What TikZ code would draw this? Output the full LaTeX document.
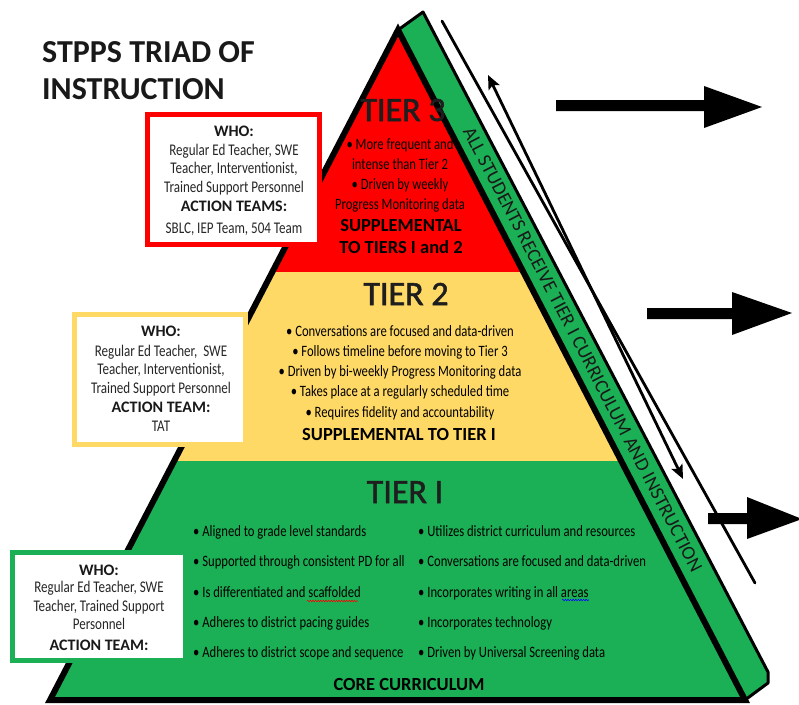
\documentclass[tikz,border=0pt]{standalone}
\usepackage{fontspec}
\setmainfont{Carlito}
\newfontfamily\bodyfont[FakeStretch=0.8]{Carlito}
\newfontfamily\tierfont[FakeBold=1.6]{Carlito}
\usetikzlibrary{shadows,arrows.meta,decorations.pathmorphing}
\definecolor{tred}{HTML}{FF0000}
\definecolor{tyel}{HTML}{FFD966}
\definecolor{tgrn}{HTML}{1BB055}
\definecolor{tlab}{HTML}{1E1E1E}
\tikzset{
  body/.style={font=\bodyfont\fontsize{15.8}{18}\selectfont, anchor=base, inner sep=0pt, text=black},
  bodyw/.style={body, anchor=base west},
  boldl/.style={font=\bfseries\fontsize{18.5}{20}\selectfont, anchor=base, inner sep=0pt, text=black},
  whob/.style={font=\bfseries\fontsize{16}{18}\selectfont, anchor=base, inner sep=0pt, text=black!90},
  whot/.style={font=\bodyfont\fontsize{16.3}{18}\selectfont, anchor=base, inner sep=0pt, text=black!85},
  tierlab/.style={font=\tierfont\fontsize{34}{36}\selectfont, anchor=base, inner sep=0pt, text=tlab},
  titlet/.style={font=\bfseries\fontsize{32}{34}\selectfont, anchor=base west, inner sep=0pt, text=black!90},
  stripw/.style={font=\fontsize{19.4}{20}\selectfont, anchor=west, inner sep=0pt, transform shape, text=black!90},
  whobox/.style={line width=5pt, fill=white, drop shadow={shadow xshift=2.5pt, shadow yshift=-2.5pt, opacity=0.35}},
  bigarrow/.style={fill=black},
  thinline/.style={line width=2.8pt, black},
  squig/.style={line width=0.6pt, decorate, decoration={snake, amplitude=0.7pt, segment length=2.6pt}}
}
\begin{document}
\begin{tikzpicture}[x=1pt,y=-1pt]
\useasboundingbox (0,0) rectangle (799,704);
\fill[white] (0,0) rectangle (799,704);

% title
\node[titlet] (title1) at (42,62) {STPPS TRIAD OF};
\node[titlet] (title2) at (42,99) {INSTRUCTION};

% pyramid geometry
\coordinate (AP) at (398,30);
\coordinate (BL) at (50,700);
\coordinate (BR) at (745,700);
\coordinate (S1) at (423,12);
\coordinate (S2) at (768,672);
\coordinate (S3) at (768,683);

% side strip
\filldraw[fill=tgrn, draw=black, line width=3pt, line join=round] (AP) -- (S1) -- (S2) -- (S3) -- (BR) -- cycle;

% tiers
\begin{scope}
  \clip (BL) -- (AP) -- (BR) -- cycle;
  \fill[tgrn] (0,0) rectangle (799,704);
  \fill[tyel] (0,0) rectangle (799,461);
  \fill[tred] (0,0) rectangle (799,272);
\end{scope}
\draw[line width=6pt, line join=miter] (BL) -- (AP) -- (BR) -- cycle;

% strip text, word by word along the strip
\begin{scope}[shift={(468,128)}, rotate=-62.6]
  \node[stripw] (sw1) at (0,0) {ALL};
  \node[stripw] (sw2) at (sw1.east) {\hspace{0.2em}STUDENTS};
  \node[stripw] (sw3) at (sw2.east) {\hspace{0.15em}RECEIVE};
  \node[stripw] (sw4) at (sw3.east) {\hspace{0.22em}TIER};
  \node[stripw] (sw5) at (sw4.east) {\hspace{0.22em}I};
  \node[stripw] (sw6) at (sw5.east) {\hspace{0.22em}CURRICULUM};
  \node[stripw] (sw7) at (sw6.east) {\hspace{0.22em}AND};
  \node[stripw] (sw8) at (sw7.east) {\hspace{0.22em}INSTRUCTION};
\end{scope}

% thin line and double arrow
\coordinate (o1) at (442,21);
\coordinate (o2) at (755,583);
\draw[thinline, line cap=round] (o1) -- (o2);
\coordinate (i1) at (488,75);
\coordinate (i2) at (683,479);
\draw[thinline, {Stealth[length=14pt,width=12pt,inset=3pt]}-{Stealth[length=14pt,width=12pt,inset=3pt]}] (i1) -- (i2);

% big arrows
\fill[bigarrow] (556,100) -- (704,100) -- (704,86) -- (762,107) -- (704,128) -- (704,111) -- (556,111) -- cycle;
\fill[bigarrow] (647,308) -- (732,308) -- (732,292) -- (792,313) -- (732,335) -- (732,319) -- (647,319) -- cycle;
\fill[bigarrow] (708,513) -- (747,513) -- (747,497) -- (802,519) -- (747,539) -- (747,524) -- (708,524) -- cycle;

% tier labels
\node[tierlab] (tier3) at (403,121) {TIER 3};
\node[tierlab] (tier2) at (406,305) {TIER 2};
\node[tierlab] (tier1) at (405,503) {TIER I};

% tier 3 text
\node[body] (t3a) at (400,149) {• More frequent and};
\node[body] (t3b) at (400,169) {intense than Tier 2};
\node[body] (t3c) at (400,189) {• Driven by weekly};
\node[body] (t3d) at (400,209) {Progress Monitoring data};
\node[boldl] (t3e) at (401,231.5) {SUPPLEMENTAL};
\node[boldl] (t3f) at (401,253) {TO TIERS I and 2};

% tier 2 text
\node[body] (t2a) at (400,336) {• Conversations are focused and data-driven};
\node[body] (t2b) at (400,356) {• Follows timeline before moving to Tier 3};
\node[body] (t2c) at (400,376) {• Driven by bi-weekly Progress Monitoring data};
\node[body] (t2d) at (400,396) {• Takes place at a regularly scheduled time};
\node[body] (t2e) at (400,417) {• Requires fidelity and accountability};
\node[boldl] (t2f) at (399,440) {SUPPLEMENTAL TO TIER I};

% tier 1 text
\node[bodyw] (t1a) at (193,536) {• Aligned to grade level standards};
\node[bodyw] (t1b) at (193,566) {• Supported through consistent PD for all};
\node[bodyw] (t1c) at (193,597) {• Is differentiated and scaffolded};
\node[bodyw] (t1d) at (193,627) {• Adheres to district pacing guides};
\node[bodyw] (t1e) at (193,657) {• Adheres to district scope and sequence};
\node[bodyw] (t1f) at (418,536) {• Utilizes district curriculum and resources};
\node[bodyw] (t1g) at (418,566) {• Conversations are focused and data-driven};
\node[bodyw] (t1h) at (418,597) {• Incorporates writing in all areas};
\node[bodyw] (t1i) at (418,627) {• Incorporates technology};
\node[bodyw] (t1j) at (418,657) {• Driven by Universal Screening data};
\node[boldl] (t1k) at (409,690) {CORE CURRICULUM};
\draw[squig, red] (307,601) -- (358,601);
\draw[squig, blue] (562,600) -- (589,600);

% WHO boxes
\path[whobox, draw=tred] (147.5,114.5) rectangle (319.5,244.5);
\node[whob] (w3a) at (234,136.5) {WHO:};
\node[whot] (w3b) at (234,155) {Regular Ed Teacher, SWE};
\node[whot] (w3c) at (234,173.5) {Teacher, Interventionist,};
\node[whot] (w3d) at (234,192.5) {Trained Support Personnel};
\node[whob] (w3e) at (234,211.5) {ACTION TEAMS:};
\node[whot] (w3f) at (234,233) {SBLC, IEP Team, 504 Team};

\path[whobox, draw=tyel] (74.5,314.5) rectangle (245.5,444.5);
\node[whob] (w2a) at (161,336.5) {WHO:};
\node[whot] (w2b) at (161,356) {Regular Ed Teacher,\ \ SWE};
\node[whot] (w2c) at (161,374.5) {Teacher, Interventionist,};
\node[whot] (w2d) at (161,393) {Trained Support Personnel};
\node[whob] (w2e) at (161,412.5) {ACTION TEAM:};
\node[whot] (w2f) at (161,431.5) {TAT};

\path[whobox, draw=tgrn] (12.5,552.5) rectangle (185.5,660.5);
\node[whob] (w1a) at (99,575) {WHO:};
\node[whot] (w1b) at (99,592.5) {Regular Ed Teacher, SWE};
\node[whot] (w1c) at (99,611) {Teacher, Trained Support};
\node[whot] (w1d) at (99,629.5) {Personnel};
\node[whob] (w1e) at (99,650) {ACTION TEAM:};
\end{tikzpicture}
\end{document}
